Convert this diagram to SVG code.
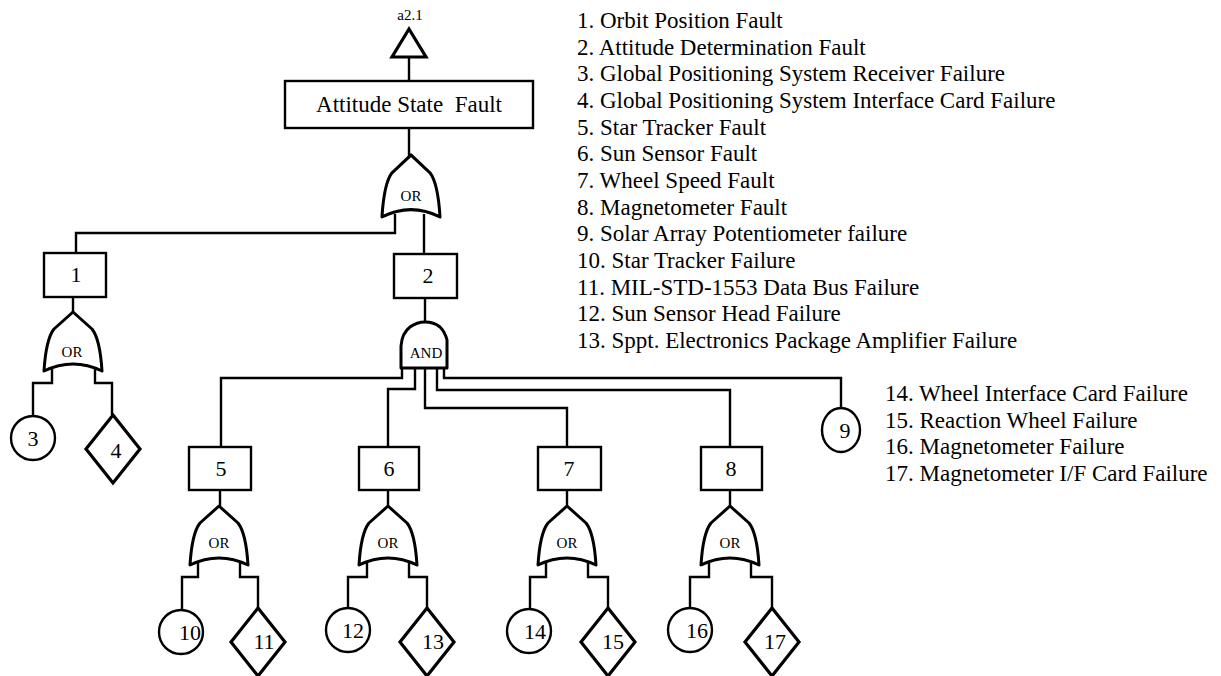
<svg xmlns="http://www.w3.org/2000/svg" xmlns:xlink="http://www.w3.org/1999/xlink" width="1221" height="676" viewBox="0 0 1221 676">
  <style>
    text { font-family: "Liberation Serif", "Times New Roman", serif; fill: #000; }
    .box { fill: #fff; stroke: #000; stroke-width: 2.4; }
    .evt { fill: #fff; stroke: #000; stroke-width: 2.4; }
    .dia { fill: #fff; stroke: #000; stroke-width: 3.2; stroke-linejoin: miter; }
    .gate { fill: #fff; stroke: #000; stroke-width: 3; stroke-linejoin: round; }
    .wire { fill: none; stroke: #000; stroke-width: 2.4; stroke-linejoin: miter; }
    .num { font-size: 22px; text-anchor: middle; }
    .glbl { font-size: 15px; text-anchor: middle; }
    .legend { font-size: 23px; }
  </style>
  <defs>
    <!-- OR gate outline, origin at the apex -->
    <path id="orGate" d="M0,0 L-19,17 Q-27,27 -29,59 Q0,45 29,59 Q27,27 19,17 Z"/>
    <!-- basic event diamond, origin at the top vertex -->
    <path id="diamond" d="M0,0 L27,34 L0,68 L-27,34 Z"/>
  </defs>

  <!-- connectors -->
  <g id="connectors" class="wire">
    <path d="M409,57 V81"/>
    <path d="M409,128 V156"/>
    <path d="M395,214 V233 H76 V253"/>
    <path d="M424,214 V254"/>
    <path d="M73,297 V312"/>
    <path d="M52,368 V383 H33 V416"/>
    <path d="M95,368 V383 H112 V415"/>
    <path d="M425,298 V322"/>
    <path d="M402,368 V378 H221 V447"/>
    <path d="M415,368 V389 H388 V447"/>
    <path d="M425,368 V408 H567 V447"/>
    <path d="M437,368 V390 H730 V447"/>
    <path d="M444,368 V378 H841 V408"/>
    <path d="M220,490 V506"/>
    <path d="M388,490 V506"/>
    <path d="M567,490 V506"/>
    <path d="M730,490 V506"/>
    <path d="M198,561 V577 H182 V610"/>
    <path d="M240,561 V577 H258 V608"/>
    <path d="M367,561 V577 H348 V608"/>
    <path d="M409,561 V577 H427 V608"/>
    <path d="M546,561 V577 H530 V610"/>
    <path d="M588,561 V577 H608 V608"/>
    <path d="M709,561 V577 H690 V608"/>
    <path d="M751,561 V577 H772 V608"/>
  </g>

  <!-- top event with transfer symbol -->
  <g id="transfer-a2-1">
    <text x="410" y="20" font-size="15" text-anchor="middle">a2.1</text>
    <path d="M409,29 L426,57 L392,57 Z" class="dia" stroke-width="2.6"/>
  </g>
  <g id="attitude-state-fault">
    <rect class="box" x="285" y="81" width="248" height="47"/>
    <text x="409" y="112" font-size="23" text-anchor="middle" xml:space="preserve">Attitude State  Fault</text>
  </g>
  <g id="gate-top-or">
    <use href="#orGate" class="gate" transform="translate(411,155) scale(1,1.05)"/>
    <text class="glbl" x="411" y="201">OR</text>
  </g>

  <!-- event 1 branch -->
  <g id="event-1">
    <rect class="box" x="44" y="253" width="62" height="44"/>
    <text class="num" x="76" y="282">1</text>
  </g>
  <g id="gate-1-or">
    <use href="#orGate" class="gate" x="73" y="312"/>
    <text class="glbl" x="72" y="357">OR</text>
  </g>
  <g id="event-3">
    <circle class="evt" cx="33" cy="438" r="22"/>
    <text class="num" x="33" y="446">3</text>
  </g>
  <g id="event-4">
    <use href="#diamond" class="dia" x="113" y="415"/>
    <text class="num" x="116" y="458">4</text>
  </g>

  <!-- event 2 branch -->
  <g id="event-2">
    <rect class="box" x="394" y="254" width="63" height="44"/>
    <text class="num" x="428" y="283">2</text>
  </g>
  <g id="gate-2-and">
    <path class="gate" d="M401,368 V346 Q402,333 410,327 Q417,322 425,322 Q434,322 440,327 Q445,332 447,340 V368 Z"/>
    <text class="glbl" x="426" y="358">AND</text>
  </g>
  <g id="event-9">
    <ellipse class="evt" cx="841" cy="430" rx="19" ry="22"/>
    <text class="num" x="845" y="438">9</text>
  </g>

  <!-- intermediate events 5 to 8 -->
  <g id="event-5">
    <rect class="box" x="189" y="447" width="62" height="43"/>
    <text class="num" x="221" y="476">5</text>
  </g>
  <g id="event-6">
    <rect class="box" x="359" y="447" width="60" height="43"/>
    <text class="num" x="389" y="476">6</text>
  </g>
  <g id="event-7">
    <rect class="box" x="538" y="447" width="63" height="43"/>
    <text class="num" x="569" y="476">7</text>
  </g>
  <g id="event-8">
    <rect class="box" x="701" y="447" width="61" height="43"/>
    <text class="num" x="731" y="476">8</text>
  </g>

  <g id="gate-5-or">
    <use href="#orGate" class="gate" x="219" y="506"/>
    <text class="glbl" x="219" y="548">OR</text>
  </g>
  <g id="gate-6-or">
    <use href="#orGate" class="gate" x="388" y="506"/>
    <text class="glbl" x="388" y="548">OR</text>
  </g>
  <g id="gate-7-or">
    <use href="#orGate" class="gate" x="567" y="506"/>
    <text class="glbl" x="567" y="548">OR</text>
  </g>
  <g id="gate-8-or">
    <use href="#orGate" class="gate" x="730" y="506"/>
    <text class="glbl" x="730" y="548">OR</text>
  </g>

  <!-- basic events 10 to 17 -->
  <g id="event-10">
    <circle class="evt" cx="181" cy="632" r="22"/>
    <text class="num" x="190" y="640">10</text>
  </g>
  <g id="event-11">
    <use href="#diamond" class="dia" x="258" y="608"/>
    <text class="num" x="264" y="649">11</text>
  </g>
  <g id="event-12">
    <circle class="evt" cx="348" cy="630" r="22"/>
    <text class="num" x="353" y="638">12</text>
  </g>
  <g id="event-13">
    <use href="#diamond" class="dia" x="427" y="608"/>
    <text class="num" x="433" y="649">13</text>
  </g>
  <g id="event-14">
    <circle class="evt" cx="529" cy="631" r="22"/>
    <text class="num" x="535" y="639">14</text>
  </g>
  <g id="event-15">
    <use href="#diamond" class="dia" x="608" y="608"/>
    <text class="num" x="613" y="649">15</text>
  </g>
  <g id="event-16">
    <circle class="evt" cx="690" cy="630" r="22"/>
    <text class="num" x="697" y="638">16</text>
  </g>
  <g id="event-17">
    <use href="#diamond" class="dia" x="772" y="608"/>
    <text class="num" x="775" y="649">17</text>
  </g>

  <!-- event descriptions -->
  <g id="legend" class="legend">
    <text x="577" y="28">1. Orbit Position Fault</text>
    <text x="577" y="54.7">2. Attitude Determination Fault</text>
    <text x="577" y="81.4">3. Global Positioning System Receiver Failure</text>
    <text x="577" y="108">4. Global Positioning System Interface Card Failure</text>
    <text x="577" y="134.7">5. Star Tracker Fault</text>
    <text x="577" y="161.4">6. Sun Sensor Fault</text>
    <text x="577" y="188">7. Wheel Speed Fault</text>
    <text x="577" y="214.7">8. Magnetometer Fault</text>
    <text x="577" y="241.4">9. Solar Array Potentiometer failure</text>
    <text x="577" y="268">10. Star Tracker Failure</text>
    <text x="577" y="294.7">11. MIL-STD-1553 Data Bus Failure</text>
    <text x="577" y="321.4">12. Sun Sensor Head Failure</text>
    <text x="577" y="348">13. Sppt. Electronics Package Amplifier Failure</text>
    <text x="885" y="401">14. Wheel Interface Card Failure</text>
    <text x="885" y="427.5">15. Reaction Wheel Failure</text>
    <text x="885" y="454">16. Magnetometer Failure</text>
    <text x="885" y="480.5">17. Magnetometer I/F Card Failure</text>
  </g>
</svg>
